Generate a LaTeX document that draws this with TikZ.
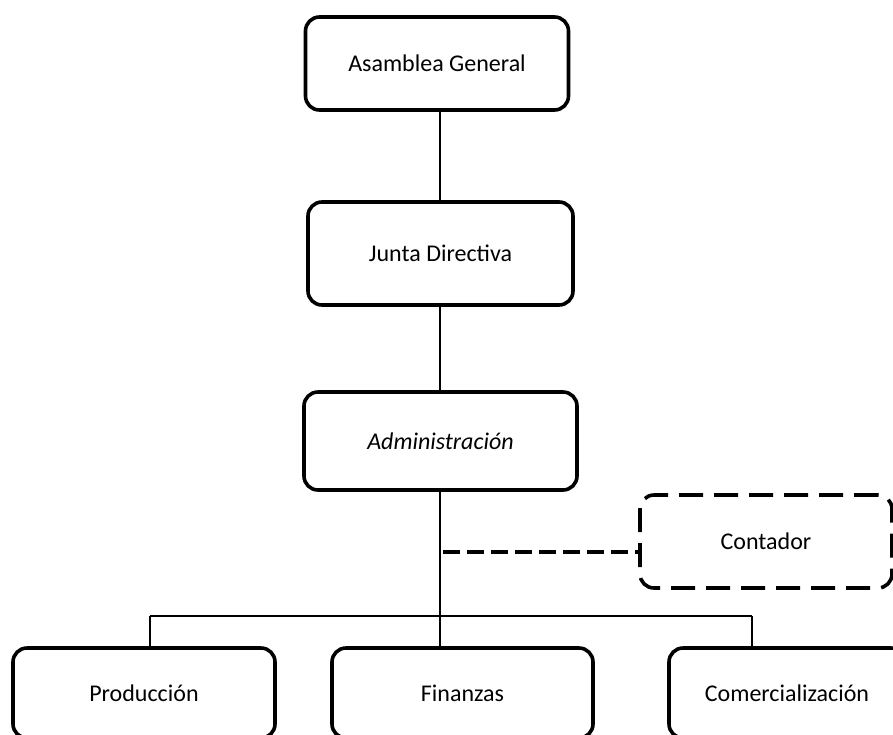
\documentclass[tikz,border=0pt]{standalone}
\usepackage{fontspec}
\setmainfont{Carlito}
\begin{document}
\begin{tikzpicture}[x=1pt,y=-1pt,
  unit/.style={draw=black, line width=3.6pt, rounded corners=14pt, inner sep=0pt,
    font=\fontsize{24}{28}\selectfont, align=center},
  dashunit/.style={unit, dash pattern=on 24pt off 11pt},
  link/.style={draw=black, line width=1.1pt},
  dashlink/.style={draw=black, line width=3.4pt, dash pattern=on 17pt off 7pt}]
\useasboundingbox (0,0) rectangle (893,734);
\clip (0,0) rectangle (893,734);
\node[unit, minimum width=263pt, minimum height=93pt] (ag) at (437,63.5) {Asamblea General};
\node[unit, minimum width=265pt, minimum height=103pt] (jd) at (440.5,253.5) {Junta Directiva};
\node[unit, minimum width=273pt, minimum height=98pt] (adm) at (440.5,441) {\itshape Administración};
\node[dashunit, minimum width=252pt, minimum height=93pt] (cont) at (766,541.5) {Contador};
\node[unit, minimum width=262pt, minimum height=90pt] (prod) at (144,693) {Producción};
\node[unit, minimum width=261pt, minimum height=90pt] (fin) at (462.5,693) {Finanzas};
\node[unit, minimum width=236pt, minimum height=90pt] (com) at (787,693) {Comercialización};
\coordinate (t1) at (440,110);
\coordinate (t2) at (440,392);
\coordinate (t3) at (440,490);
\coordinate (barL) at (150,616);
\coordinate (barR) at (752,616);
\coordinate (dj) at (443,552);
\draw[link] (t1 |- ag.south) -- (t1 |- jd.north);
\draw[link] (t2 |- jd.south) -- (t2 |- adm.north);
\draw[link] (t3 |- adm.south) -- (t3 |- fin.north);
\draw[link] (barL) -- (barR);
\draw[link] (barL) -- (barL |- prod.north);
\draw[link] (barR) -- (barR |- com.north);
\draw[dashlink] (dj) -- (dj -| cont.west);
\end{tikzpicture}
\end{document}
